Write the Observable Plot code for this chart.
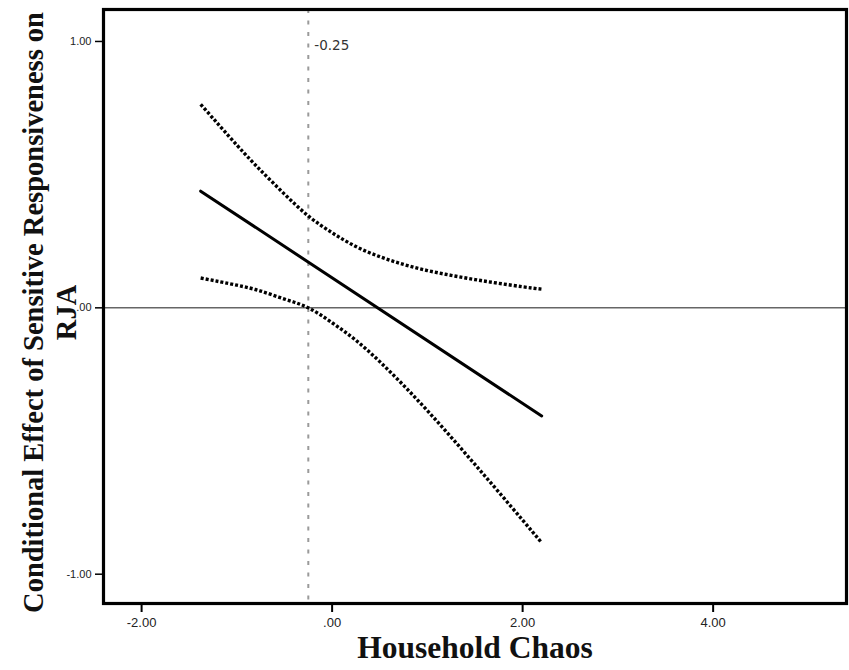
<!DOCTYPE html>
<html>
<head>
<meta charset="utf-8">
<script src="https://cdn.jsdelivr.net/npm/d3@7"></script>
<script src="https://cdn.jsdelivr.net/npm/@observablehq/plot@0.6"></script>
<style>
  html, body { margin: 0; padding: 0; background: #fff; }
  #chart svg { display: block; }
</style>
</head>
<body>
<div id="chart"></div>
<script>
// ---- data ----
const moderatorX   = [-1.38, -1.0, -0.75, -0.5, -0.25, 0.0, 0.25, 0.5, 0.75, 1.0, 1.25, 1.5, 1.75, 2.0, 2.2];
const upperCI      = [0.764, 0.611, 0.516, 0.427, 0.345, 0.282, 0.230, 0.192, 0.163, 0.140, 0.122, 0.106, 0.092, 0.079, 0.070];
const lowerCI      = [0.112, 0.085, 0.063, 0.033, 0.0, -0.056, -0.122, -0.202, -0.291, -0.386, -0.486, -0.588, -0.692, -0.797, -0.882];
const effectX      = [-1.38, 2.2];
const effectY      = [0.438, -0.406];
const jnPoint      = [-0.25];
const jnLabel      = ["-0.25"];
const xTicks       = [-2, 0, 2, 4];
const yTicks       = [-1, 0, 1];
const xTitle       = "Household Chaos";
const yTitle       = "Conditional Effect of Sensitive Responsiveness on\nRJA";

const upperData  = moderatorX.map((x, i) => ({x, y: upperCI[i]}));
const lowerData  = moderatorX.map((x, i) => ({x, y: lowerCI[i]}));
const effectData = effectX.map((x, i) => ({x, y: effectY[i]}));
const fmt = d => d === 0 ? ".00" : d.toFixed(2);

const chart = Plot.plot({
  width: 849,
  height: 670,
  marginLeft: 103,
  marginRight: 3,
  marginTop: 9,
  marginBottom: 67,
  style: {background: "#fff", color: "#222"},
  x: {domain: [-2.4, 5.4]},
  y: {domain: [-1.11, 1.12]},
  marks: [
    Plot.ruleY([0], {stroke: "#666", strokeWidth: 1.5}),
    Plot.ruleX(jnPoint, {stroke: "#9a9a9a", strokeWidth: 2, strokeDasharray: "4,7.5"}),
    Plot.text(jnLabel, {x: jnPoint, frameAnchor: "top", dy: 31, textAnchor: "start", dx: 6,
      fontFamily: "DejaVu Sans, sans-serif", fontSize: 13.5, fill: "#333"}),
    Plot.line(upperData, {x: "x", y: "y", curve: "natural", stroke: "#000", strokeWidth: 3.4,
      strokeDasharray: "3,2", strokeLinecap: "butt"}),
    Plot.line(lowerData, {x: "x", y: "y", curve: "natural", stroke: "#000", strokeWidth: 3.4,
      strokeDasharray: "3,2", strokeLinecap: "butt"}),
    Plot.line(effectData, {x: "x", y: "y", stroke: "#000", strokeWidth: 3}),
    Plot.axisX({ticks: xTicks, tickFormat: fmt, tickSize: 9, tickPadding: 5, label: null,
      fontFamily: "'Liberation Sans Narrow', 'Arial Narrow', 'Liberation Sans', sans-serif", fontSize: 13, stroke: "#000", strokeWidth: 2}),
    Plot.axisY({ticks: yTicks, tickFormat: fmt, tickSize: 8, tickPadding: 4, label: null,
      fontFamily: "'Liberation Sans', Arial, sans-serif", fontSize: 11, stroke: "#000", strokeWidth: 1.5}),
    Plot.frame({stroke: "#000", strokeWidth: 3.2}),
    Plot.text([xTitle], {frameAnchor: "bottom", dy: 54, textAnchor: "middle",
      fontFamily: "'Liberation Serif', 'Times New Roman', serif",
      fontWeight: "bold", fontSize: 31.5, fill: "#111"}),
    Plot.text([yTitle], {frameAnchor: "left", dx: -54.5, dy: 6, rotate: -90, textAnchor: "middle", lineAnchor: "middle", lineHeight: 1.16,
      fontFamily: "'Liberation Serif', 'Times New Roman', serif", fontWeight: "bold", fontSize: 28.5, fill: "#111"})
  ]
});
document.getElementById("chart").appendChild(chart);
</script>
</body>
</html>
